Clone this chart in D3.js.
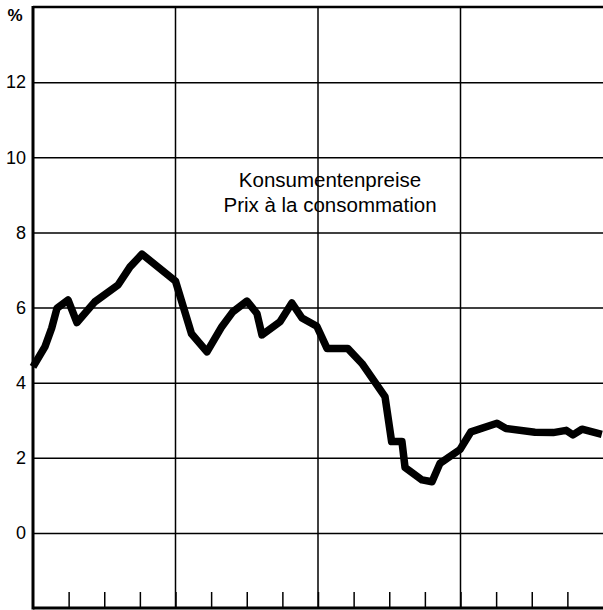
<!DOCTYPE html>
<html>
<head>
<meta charset="utf-8">
<script src="https://cdn.jsdelivr.net/npm/d3@7"></script>
<style>
  body { margin: 0; background: #fff; }
  svg { display: block; font-family: "Liberation Sans", Arial, sans-serif; }
</style>
</head>
<body>
<svg width="603" height="610"></svg>
<script>
var months = [0, 1.0, 1.57, 2.02, 2.95, 3.7, 5.2, 7.16, 8.17, 9.18, 12.0, 13.35,
	14.65, 15.9, 16.84, 18.02, 18.86, 19.28, 20.8, 21.8, 22.65, 23.9, 24.76, 26.5,
	27.7, 29.64, 30.2, 31.07, 31.33, 32.76, 33.6, 34.27, 35.96, 36.88, 39.07, 39.83,
	42.27, 43.8, 44.9, 45.47, 46.23, 47.9];
var values = [4.42, 4.95, 5.45, 5.98, 6.2, 5.6, 6.15, 6.6, 7.08, 7.42, 6.7, 5.3,
	4.82, 5.49, 5.89, 6.17, 5.84, 5.27, 5.62, 6.12, 5.72, 5.5, 4.91, 4.91,
	4.51, 3.63, 2.43, 2.43, 1.74, 1.41, 1.36, 1.85, 2.22, 2.69, 2.92, 2.78,
	2.68, 2.67, 2.73, 2.61, 2.76, 2.62];
var yTicks = [0, 2, 4, 6, 8, 10, 12];
var yearBreaks = [12, 24, 36];
var quarterTicks = d3.range(3, 48, 3);
var titleLines = ["Konsumentenpreise", "Prix à la consommation"];

var svg = d3.select("svg"),
	x0 = 33, x1 = 603, y0 = 7, y1 = 608;

var x = d3.scaleLinear().domain([0, 48]).range([x0, x1]);
var y = d3.scaleLinear().domain([-2, 14]).range([y1, y0]);

// horizontal grid + labels
var yAxis = svg.append("g")
	.attr("transform", "translate(" + x0 + ",0)")
	.call(d3.axisLeft(y).tickValues(yTicks).tickSize(-(x1 - x0)).tickPadding(7));
yAxis.select(".domain").remove();
yAxis.selectAll("line").attr("stroke", "#000").attr("stroke-width", 1.5);
yAxis.selectAll("text")
	.attr("fill", "#000")
	.style("font-size", "18px");

svg.append("text")
	.attr("x", 15).attr("y", 21)
	.attr("text-anchor", "middle")
	.style("font-size", "17px")
	.style("font-weight", "bold")
	.text("%");

// year gridlines
svg.append("g").selectAll("line")
	.data(yearBreaks)
	.enter().append("line")
	.attr("x1", function(d) { return x(d); })
	.attr("x2", function(d) { return x(d); })
	.attr("y1", y0).attr("y2", y1)
	.attr("stroke", "#000").attr("stroke-width", 1.5);

// quarter ticks along the bottom
var xAxis = svg.append("g")
	.attr("transform", "translate(0," + y1 + ")")
	.call(d3.axisTop(x).tickValues(quarterTicks).tickSize(16).tickFormat(""));
xAxis.select(".domain").remove();
xAxis.selectAll("line").attr("stroke", "#000").attr("stroke-width", 1.5);

// frame
svg.append("line").attr("x1", x0).attr("x2", x0).attr("y1", y0 - 1).attr("y2", y1 + 1.5)
	.attr("stroke", "#000").attr("stroke-width", 3);
svg.append("line").attr("x1", x0).attr("x2", x1).attr("y1", y0).attr("y2", y0)
	.attr("stroke", "#000").attr("stroke-width", 2.5);
svg.append("line").attr("x1", x0).attr("x2", x1).attr("y1", y1).attr("y2", y1)
	.attr("stroke", "#000").attr("stroke-width", 3);

// title
svg.append("text")
	.attr("y", 187)
	.attr("text-anchor", "middle")
	.style("font-size", "20.5px")
	.selectAll("tspan")
	.data(titleLines)
	.enter().append("tspan")
	.attr("x", 330)
	.attr("dy", function(d, i) { return i ? 25 : 0; })
	.text(function(d) { return d; });

// the curve
var line = d3.line()
	.x(function(d) { return x(d[0]); })
	.y(function(d) { return y(d[1]); });

svg.append("path")
	.datum(d3.zip(months, values))
	.attr("fill", "none")
	.attr("stroke", "#000")
	.attr("stroke-width", 7.5)
	.attr("stroke-linejoin", "round")
	.attr("d", line);
</script>
</body>
</html>
